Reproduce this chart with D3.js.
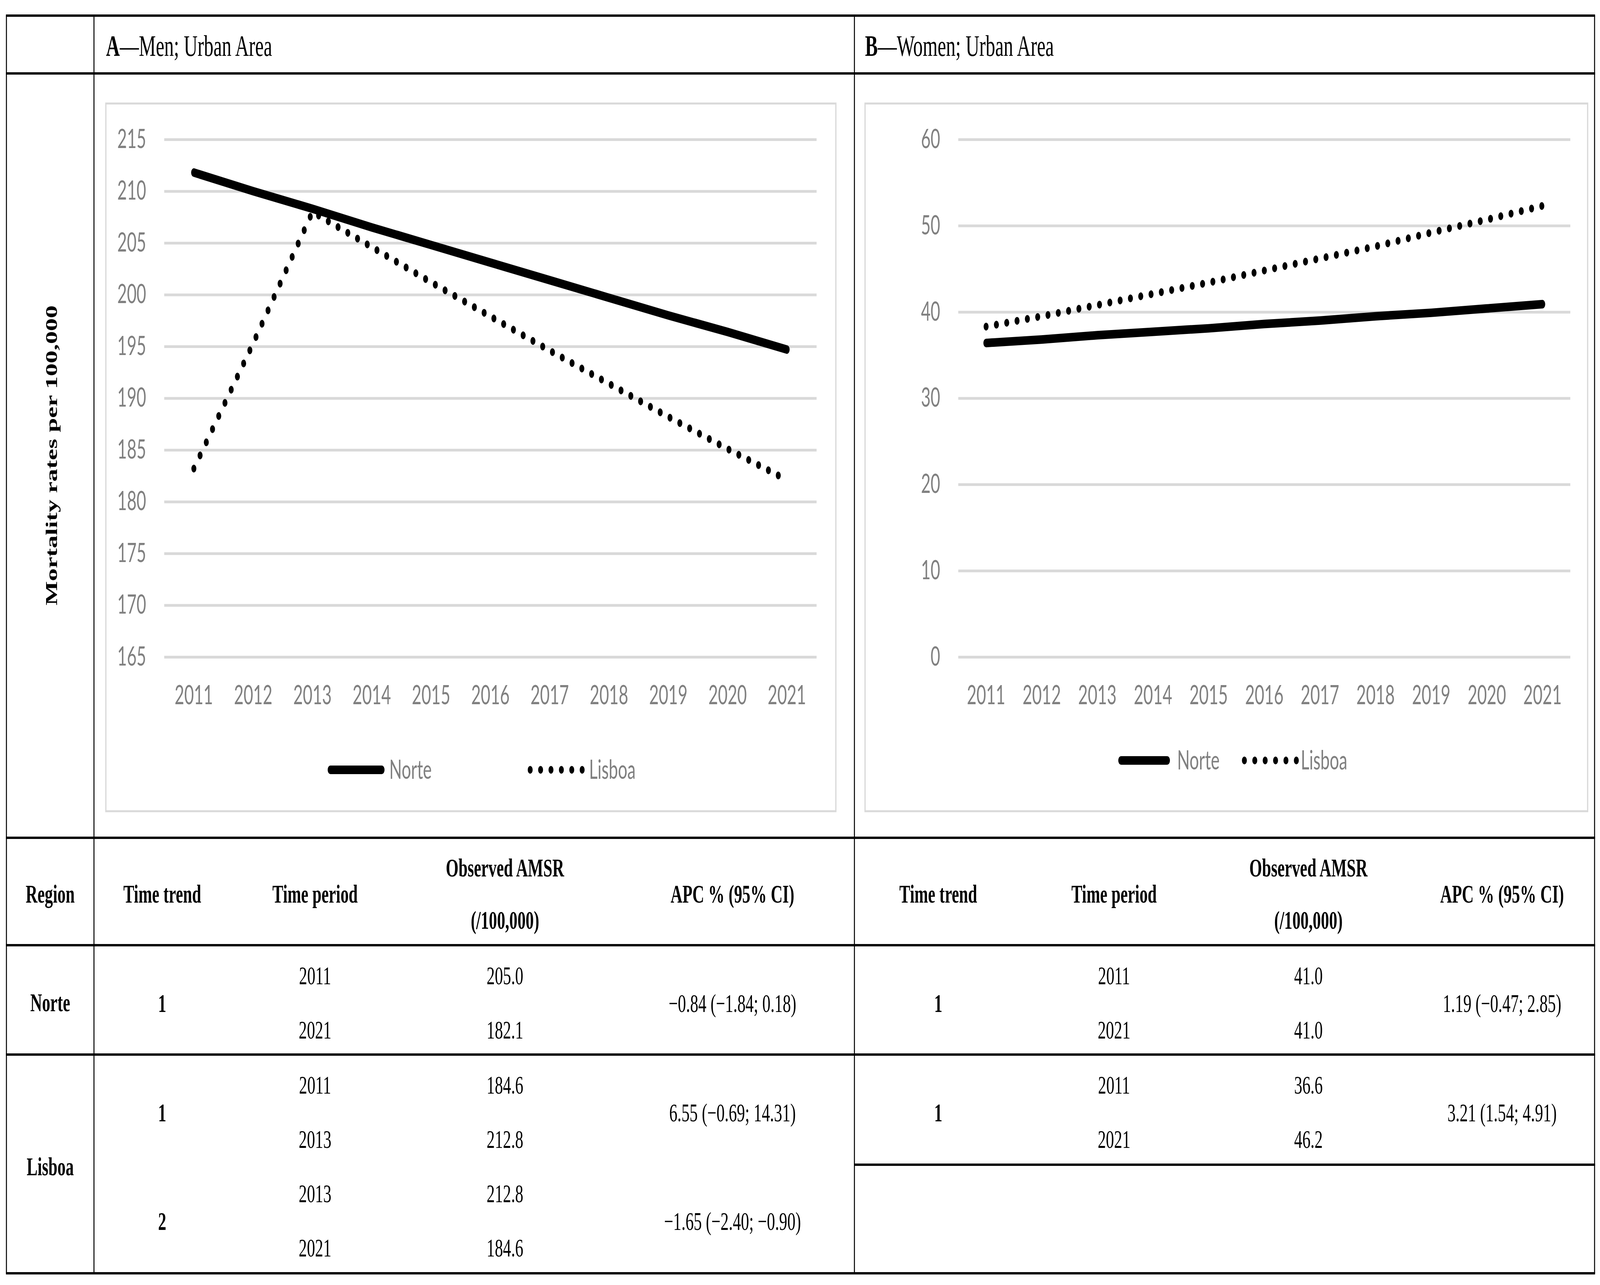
<!DOCTYPE html>
<html>
<head>
<meta charset="utf-8">
<script src="https://cdn.jsdelivr.net/npm/d3@7"></script>
<style>
html,body{margin:0;padding:0;background:#fff;overflow:hidden;width:100%;height:100%;}
svg{display:block;width:100vw;height:100vh;}
</style>
</head>
<body>
<script>
// ---------- DATA ----------
const years = [2011, 2012, 2013, 2014, 2015, 2016, 2017, 2018, 2019, 2020, 2021];
const menNorte   = [211.8, 210.0, 208.3, 206.5, 204.8, 203.1, 201.4, 199.7, 198.0, 196.4, 194.7];
const menLisboa  = [183.2, 195.3, 208.0, 204.6, 201.2, 197.9, 194.6, 191.4, 188.2, 185.1, 182.1];
const womenNorte  = [36.4, 36.8, 37.3, 37.7, 38.1, 38.6, 39.0, 39.5, 39.9, 40.4, 40.9];
const womenLisboa = [38.3, 39.5, 40.8, 42.1, 43.4, 44.8, 46.2, 47.6, 49.2, 50.7, 52.3];
const menTicks = [165, 170, 175, 180, 185, 190, 195, 200, 205, 210, 215];
const womenTicks = [0, 10, 20, 30, 40, 50, 60];
const seriesNames = ["Norte", "Lisboa"];

const panelTitles = [["A", "\u2014Men; Urban Area"], ["B", "\u2014Women; Urban Area"]];
const yTitle = "Mortality rates per 100,000";
const colHeaders = ["Time trend", "Time period", "Observed AMSR", "(/100,000)", "APC % (95% CI)"];
const regionLabels = ["Region", "Norte", "Lisboa"];
// rows: [trend, period1, value1, period2, value2, apc]
const menNorteRows  = [["1", "2011", "205.0", "2021", "182.1", "\u22120.84 (\u22121.84; 0.18)"]];
const menLisboaRows = [["1", "2011", "184.6", "2013", "212.8", "6.55 (\u22120.69; 14.31)"],
                       ["2", "2013", "212.8", "2021", "184.6", "\u22121.65 (\u22122.40; \u22120.90)"]];
const womenNorteRows  = [["1", "2011", "41.0", "2021", "41.0", "1.19 (\u22120.47; 2.85)"]];
const womenLisboaRows = [["1", "2011", "36.6", "2021", "46.2", "3.21 (1.54; 4.91)"]];

// ---------- SETUP ----------
const W = 6470, H = 3290;
const svg = d3.select("body").append("svg")
  .attr("viewBox", `0 0 ${W} ${H}`).attr("preserveAspectRatio", "none");
svg.append("rect").attr("width", W).attr("height", H).attr("fill", "#fff");

const serif = "'Liberation Serif','Times New Roman',serif";
const sans = "Lato,'Open Sans',sans-serif";
const gray = "#808080";

// ---------- TABLE GRID ----------
const xL = 26, xC = 380, xM = 3455, xR = 6448;
const hLines = [[40, xL, xR], [188, xL, xR], [2145, xL, xR], [2420, xL, xR], [2700, xL, xR], [2982, xM, xR], [3260, xL, xR]];
const g0 = svg.append("g");
hLines.forEach(([y, a, b]) => g0.append("line").attr("x1", a - 2).attr("x2", b + 2).attr("y1", y).attr("y2", y)
  .attr("stroke", "#000").attr("stroke-width", 6));
[xL, xC, xM, xR].forEach(x => g0.append("line").attr("x1", x).attr("x2", x).attr("y1", 40).attr("y2", 3260)
  .attr("stroke", "#000").attr("stroke-width", 4));

// panel titles
[[429, panelTitles[0]], [3498, panelTitles[1]]].forEach(([x, t]) => {
  const tx = svg.append("text").attr("x", x).attr("y", 143).attr("font-family", serif).attr("font-size", 77);
  tx.append("tspan").attr("font-weight", "bold").text(t[0]);
  tx.append("tspan").text(t[1]);
});

// y title
svg.append("text").attr("transform", "translate(208,1166) rotate(-90)")
  .attr("text-anchor", "middle").attr("dominant-baseline", "central")
  .attr("font-family", serif).attr("font-weight", "bold").attr("font-size", 66).text(yTitle);

// ---------- CHARTS ----------
function chart(cfg) {
  const g = svg.append("g");
  g.append("rect").attr("x", cfg.box[0]).attr("y", cfg.box[1]).attr("width", cfg.box[2]).attr("height", cfg.box[3])
    .attr("fill", "none").attr("stroke", "#d9d9d9").attr("stroke-width", 5);
  const x = d3.scaleBand().domain(years).range(cfg.xr);
  const y = d3.scaleLinear().domain(cfg.dom).range([1682, 357]);
  const ya = g.append("g").attr("transform", `translate(${cfg.xr[0]},0)`)
    .call(d3.axisLeft(y).tickValues(cfg.ticks).tickSize(-(cfg.xr[1] - cfg.xr[0])).tickPadding(73).tickFormat(d3.format("d")));
  ya.select(".domain").remove();
  ya.selectAll(".tick line").attr("stroke", "#d9d9d9").attr("stroke-width", 7);
  ya.selectAll(".tick text").attr("font-family", sans).attr("font-size", 67).attr("fill", gray);
  const xa = g.append("g").attr("transform", `translate(0,1682)`)
    .call(d3.axisBottom(x).tickSize(0).tickPadding(0));
  xa.select(".domain").remove();
  xa.selectAll(".tick text").attr("y", 98).attr("dy", "0.35em")
    .attr("font-family", sans).attr("font-size", 67).attr("fill", gray);

  const line = d3.line().x((d, i) => x(years[i]) + x.bandwidth() / 2).y(d => y(d));
  g.append("path").datum(cfg.norte).attr("d", line).attr("fill", "none").attr("stroke", "#000")
    .attr("stroke-width", 22).attr("stroke-linecap", "round").attr("stroke-linejoin", "round");
  g.append("path").datum(cfg.lisboa).attr("d", line).attr("fill", "none").attr("stroke", "#000")
    .attr("stroke-width", 20).attr("stroke-linecap", "round").attr("stroke-dasharray", "0.01 42");

  // legend
  const L = cfg.legend;
  g.append("line").attr("x1", L.n0 + 11).attr("x2", L.n1 - 11).attr("y1", L.y).attr("y2", L.y)
    .attr("stroke", "#000").attr("stroke-width", 22).attr("stroke-linecap", "round");
  g.append("text").attr("x", L.nt).attr("y", L.y).attr("dy", "0.35em").attr("font-family", sans)
    .attr("font-size", 67).attr("fill", gray).text(seriesNames[0]);
  g.append("line").attr("x1", L.l0 + 11).attr("x2", L.l0 + 11 + 5 * 42 + 1).attr("y1", L.y).attr("y2", L.y)
    .attr("stroke", "#000").attr("stroke-width", 20).attr("stroke-linecap", "round").attr("stroke-dasharray", "0.01 42");
  g.append("text").attr("x", L.lt).attr("y", L.y).attr("dy", "0.35em").attr("font-family", sans)
    .attr("font-size", 67).attr("fill", gray).text(seriesNames[1]);
}

chart({ box: [428, 265, 2952, 1812], xr: [664, 3302], dom: [165, 215], ticks: menTicks,
  norte: menNorte, lisboa: menLisboa,
  legend: { y: 1971, n0: 1325, n1: 1555, nt: 1574, l0: 2133, lt: 2382 } });
chart({ box: [3498, 265, 2922, 1812], xr: [3875, 6350], dom: [0, 60], ticks: womenTicks,
  norte: womenNorte, lisboa: womenLisboa,
  legend: { y: 1947, n0: 4522, n1: 4731, nt: 4760, l0: 5021, lt: 5260 } });

// ---------- TABLE TEXT ----------
function txt(x, y, s, bold) {
  svg.append("text").attr("x", x).attr("y", y).attr("dy", "0.35em").attr("text-anchor", "middle")
    .attr("font-family", serif).attr("font-size", 66).attr("font-weight", bold ? "bold" : "normal").text(s);
}
// headers
txt(203, 2288, regionLabels[0], true);
[[656, 1274, 2042, 2962], [3794, 4505, 5291, 6074]].forEach(c => {
  txt(c[0], 2288, colHeaders[0], true);
  txt(c[1], 2288, colHeaders[1], true);
  txt(c[2], 2221, colHeaders[2], true);
  txt(c[2], 2355, colHeaders[3], true);
  txt(c[3], 2288, colHeaders[4], true);
});
txt(203, 2566, regionLabels[1], true);
txt(203, 2986, regionLabels[2], true);

function rows(cols, list, y0) {
  list.forEach((r, i) => {
    const base = y0 + i * 278;
    txt(cols[0], base + 71, r[0], true);
    txt(cols[1], base, r[1]);
    txt(cols[2], base, r[2]);
    txt(cols[1], base + 139, r[3]);
    txt(cols[2], base + 139, r[4]);
    txt(cols[3], base + 71, r[5]);
  });
}
rows([656, 1274, 2042, 2962], menNorteRows, 2497);
rows([656, 1274, 2042, 2962], menLisboaRows, 2777);
rows([3794, 4505, 5291, 6074], womenNorteRows, 2497);
rows([3794, 4505, 5291, 6074], womenLisboaRows, 2777);
</script>
</body>
</html>
